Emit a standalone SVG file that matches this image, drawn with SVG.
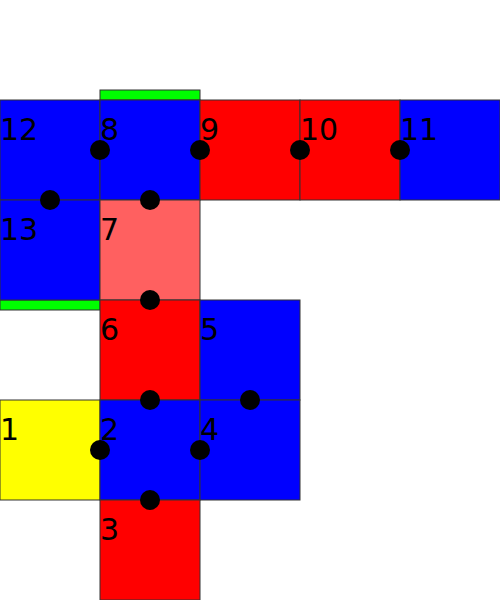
<svg xmlns="http://www.w3.org/2000/svg" width="500" height="600" viewBox="0 0 500 600">
<style>
.sq{stroke:#333;stroke-width:1}
.b{fill:#0000ff}.r{fill:#ff0000}.lr{fill:#ff6060}.y{fill:#ffff00}.g{fill:#00ff00;stroke:#333;stroke-width:1}
text{font-family:"DejaVu Sans",sans-serif;font-size:30px;fill:#000}
.d{fill:#000}
</style>
<rect x="0" y="0" width="500" height="600" fill="#fff"/>
<g id="bar-top"><rect class="g" x="100" y="90" width="100" height="10"/></g>
<g id="bar-left"><rect class="g" x="0" y="300" width="100" height="10"/></g>
<g id="n12"><rect class="sq b" x="0" y="100" width="100" height="100"/><text x="0" y="140">12</text></g>
<g id="n8"><rect class="sq b" x="100" y="100" width="100" height="100"/><text x="100" y="140">8</text></g>
<g id="n9"><rect class="sq r" x="200" y="100" width="100" height="100"/><text x="200" y="140">9</text></g>
<g id="n10"><rect class="sq r" x="300" y="100" width="100" height="100"/><text x="300" y="140">10</text></g>
<g id="n11"><rect class="sq b" x="400" y="100" width="100" height="100"/><text x="400" y="140">11</text></g>
<g id="n13"><rect class="sq b" x="0" y="200" width="100" height="100"/><text x="0" y="240">13</text></g>
<g id="n7"><rect class="sq lr" x="100" y="200" width="100" height="100"/><text x="100" y="240">7</text></g>
<g id="n6"><rect class="sq r" x="100" y="300" width="100" height="100"/><text x="100" y="340">6</text></g>
<g id="n5"><rect class="sq b" x="200" y="300" width="100" height="100"/><text x="200" y="340">5</text></g>
<g id="n1"><rect class="sq y" x="0" y="400" width="100" height="100"/><text x="0" y="440">1</text></g>
<g id="n2"><rect class="sq b" x="100" y="400" width="100" height="100"/><text x="100" y="440">2</text></g>
<g id="n4"><rect class="sq b" x="200" y="400" width="100" height="100"/><text x="200" y="440">4</text></g>
<g id="n3"><rect class="sq r" x="100" y="500" width="100" height="100"/><text x="100" y="540">3</text></g>
<g id="connectors">
<circle class="d" cx="100" cy="150" r="10"/>
<circle class="d" cx="200" cy="150" r="10"/>
<circle class="d" cx="300" cy="150" r="10"/>
<circle class="d" cx="400" cy="150" r="10"/>
<circle class="d" cx="50" cy="200" r="10"/>
<circle class="d" cx="150" cy="200" r="10"/>
<circle class="d" cx="150" cy="300" r="10"/>
<circle class="d" cx="150" cy="400" r="10"/>
<circle class="d" cx="250" cy="400" r="10"/>
<circle class="d" cx="100" cy="450" r="10"/>
<circle class="d" cx="200" cy="450" r="10"/>
<circle class="d" cx="150" cy="500" r="10"/>
</g>
</svg>
